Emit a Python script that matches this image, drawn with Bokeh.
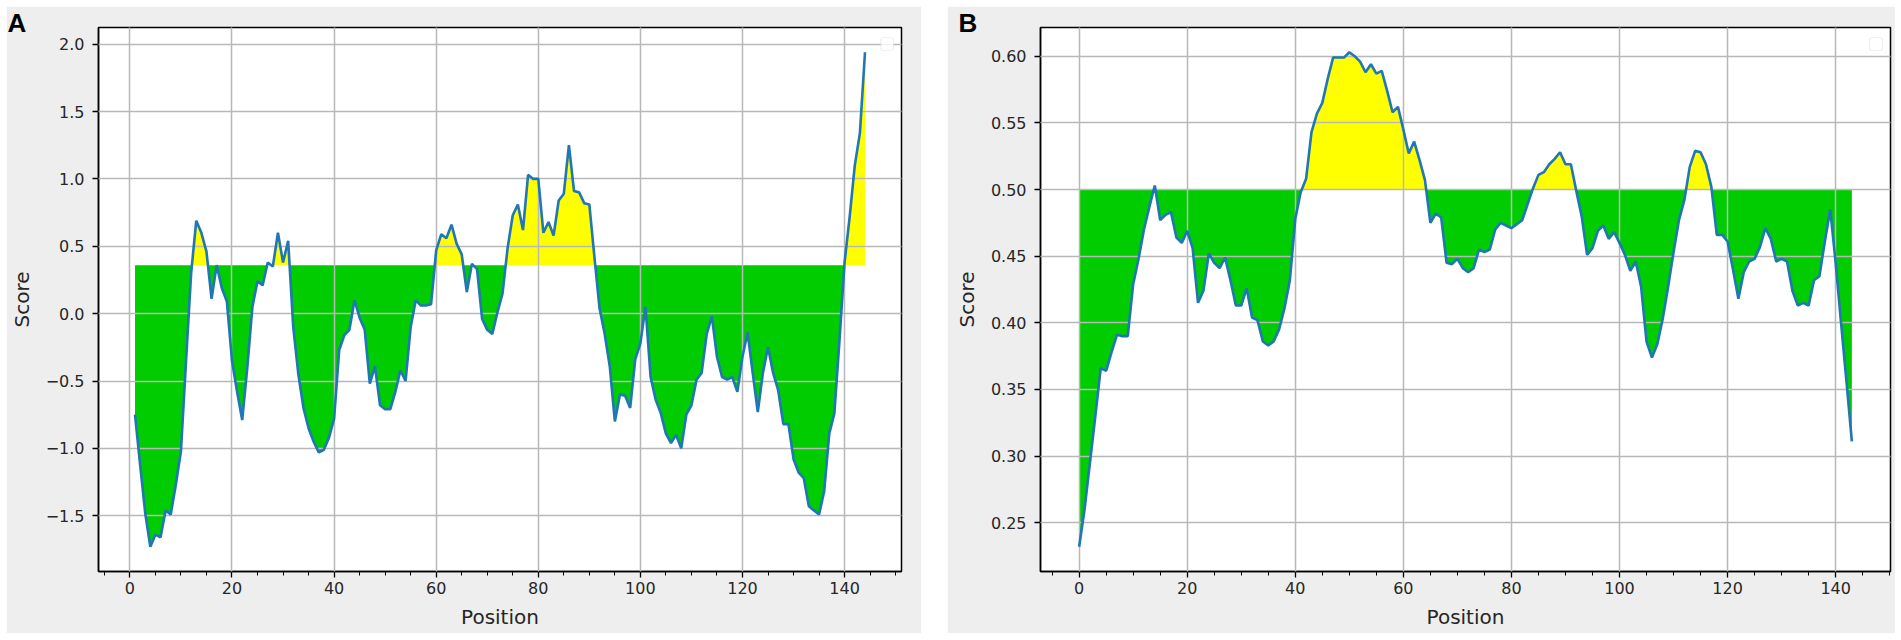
import numpy as np
from bokeh.plotting import figure
from bokeh.layouts import row
from bokeh.models import (Range1d, SingleIntervalTicker, CustomJSTickFormatter,
                          BoxAnnotation, ColumnDataSource, Title)
from bokeh.embed import file_html
from bokeh.resources import INLINE

# ---------------- data ----------------
pos_a = list(range(1, 145))
score_a = [
    -0.75, -1.12, -1.48, -1.73, -1.64, -1.66, -1.46, -1.49, -1.27, -1.02,
    -0.35, 0.30, 0.69, 0.60, 0.46, 0.11, 0.36, 0.19, 0.09, -0.35,
    -0.58, -0.79, -0.40, 0.05, 0.24, 0.21, 0.38, 0.35, 0.60, 0.38,
    0.54, -0.10, -0.45, -0.70, -0.85, -0.95, -1.03, -1.01, -0.92, -0.78,
    -0.27, -0.16, -0.12, 0.10, -0.03, -0.12, -0.52, -0.39, -0.68, -0.71,
    -0.71, -0.58, -0.42, -0.50, -0.10, 0.10, 0.06, 0.06, 0.07, 0.47,
    0.59, 0.56, 0.66, 0.52, 0.44, 0.16, 0.37, 0.33, -0.04, -0.12,
    -0.15, 0.01, 0.15, 0.49, 0.73, 0.81, 0.62, 1.03, 1.00, 1.00,
    0.60, 0.68, 0.58, 0.84, 0.89, 1.25, 0.91, 0.90, 0.82, 0.81,
    0.42, 0.04, -0.15, -0.39, -0.80, -0.60, -0.61, -0.70, -0.34, -0.22,
    0.05, -0.47, -0.64, -0.74, -0.89, -0.96, -0.90, -1.00, -0.75, -0.68,
    -0.49, -0.44, -0.15, -0.02, -0.32, -0.47, -0.49, -0.47, -0.58, -0.32,
    -0.14, -0.44, -0.73, -0.44, -0.25, -0.44, -0.57, -0.82, -0.82, -1.08,
    -1.18, -1.22, -1.43, -1.46, -1.49, -1.32, -0.89, -0.74, -0.20, 0.38,
    0.72, 1.10, 1.34, 1.94,
]
threshold_a = 0.36

pos_b = list(range(0, 144))
score_b = [
    0.232, 0.260, 0.295, 0.330, 0.366, 0.364, 0.378, 0.391, 0.390, 0.390,
    0.429, 0.448, 0.470, 0.487, 0.503, 0.477, 0.481, 0.483, 0.464, 0.460,
    0.469, 0.456, 0.415, 0.424, 0.452, 0.445, 0.441, 0.449, 0.432, 0.413,
    0.413, 0.426, 0.404, 0.402, 0.386, 0.383, 0.386, 0.395, 0.411, 0.432,
    0.478, 0.498, 0.508, 0.543, 0.557, 0.565, 0.583, 0.599, 0.599, 0.599,
    0.603, 0.600, 0.596, 0.588, 0.594, 0.587, 0.589, 0.574, 0.558, 0.562,
    0.545, 0.527, 0.536, 0.522, 0.507, 0.475, 0.482, 0.479, 0.445, 0.444,
    0.448, 0.441, 0.438, 0.441, 0.455, 0.453, 0.455, 0.470, 0.475, 0.473,
    0.471, 0.474, 0.477, 0.489, 0.501, 0.511, 0.513, 0.519, 0.523, 0.528,
    0.519, 0.519, 0.499, 0.480, 0.451, 0.456, 0.469, 0.473, 0.463, 0.468,
    0.460, 0.451, 0.439, 0.446, 0.427, 0.386, 0.374, 0.384, 0.403, 0.427,
    0.453, 0.477, 0.492, 0.517, 0.529, 0.528, 0.519, 0.502, 0.466, 0.466,
    0.461, 0.440, 0.418, 0.438, 0.446, 0.448, 0.457, 0.471, 0.463, 0.446,
    0.448, 0.446, 0.424, 0.413, 0.415, 0.413, 0.432, 0.435, 0.461, 0.485,
    0.445, 0.400, 0.356, 0.311,
]
threshold_b = 0.50

x_tick_interval = 20
y_tick_interval_a = 0.5
y_tick_interval_b = 0.05

GREEN = "#00cc00"
YELLOW = "#ffff00"
LINE = "#1f77b4"
PANEL_BG = "#eeeeee"
GRID = "#b8b8b8"
FONT = "DejaVu Sans"

FIG_H = 627
TOP_B = 21
BOT_B = 62


def with_crossings(xs, ys, thr):
    X = [xs[0]]
    Y = [ys[0]]
    for i in range(1, len(xs)):
        y0, y1 = ys[i - 1], ys[i]
        if (y0 - thr) * (y1 - thr) < 0:
            t = (thr - y0) / (y1 - y0)
            X.append(xs[i - 1] + t * (xs[i] - xs[i - 1]))
            Y.append(thr)
        X.append(xs[i])
        Y.append(ys[i])
    return np.array(X, dtype=float), np.array(Y, dtype=float)


def make_panel(letter, letter_offset, xs, ys, thr, y_int, decimals, width,
               left_border, right_border, margin):
    xs = np.array(xs, dtype=float)
    ys = np.array(ys, dtype=float)
    xpad = 0.05 * (xs.max() - xs.min())
    ypad = 0.05 * (ys.max() - ys.min())
    xr = Range1d(xs.min() - xpad, xs.max() + xpad)
    yr = Range1d(ys.min() - ypad, ys.max() + ypad)

    p = figure(width=width, height=FIG_H, x_range=xr, y_range=yr,
               output_backend="svg", toolbar_location=None,
               min_border_left=left_border, min_border_right=right_border,
               min_border_top=TOP_B, min_border_bottom=BOT_B)
    p.margin = margin
    p.border_fill_color = PANEL_BG
    p.background_fill_color = "white"
    p.outline_line_color = "black"
    p.outline_line_width = 1.5

    # panel letter as a title in the top border (reaching down beside the frame)
    p.title = Title(text=letter, align="left", vertical_align="bottom",
                    offset=letter_offset, standoff=-20,
                    text_font="Liberation Sans", text_font_style="bold",
                    text_font_size="26px", text_color="black")

    X, Y = with_crossings(xs, ys, thr)
    src = ColumnDataSource(dict(x=X, thr=np.full_like(X, thr),
                                lo=np.minimum(Y, thr), hi=np.maximum(Y, thr)))
    p.varea(x="x", y1="thr", y2="lo", source=src, fill_color=GREEN)
    p.varea(x="x", y1="thr", y2="hi", source=src, fill_color=YELLOW)
    ln = p.line(xs, ys, line_color=LINE, line_width=2.6)
    ln.level = "annotation"

    # axes
    p.xaxis.ticker = SingleIntervalTicker(interval=x_tick_interval, num_minor_ticks=4)
    p.yaxis.ticker = SingleIntervalTicker(interval=y_int, num_minor_ticks=0)
    p.xaxis.formatter = CustomJSTickFormatter(
        code="return (tick < -1e-9 ? '\u2212' : '') + Math.abs(tick).toFixed(0);")
    p.yaxis.formatter = CustomJSTickFormatter(
        code="return (tick < -1e-9 ? '\u2212' : '') + Math.abs(tick).toFixed(%d);" % decimals)
    for ax in (p.xaxis[0], p.yaxis[0]):
        ax.axis_line_color = "black"
        ax.axis_line_width = 1.5
        ax.major_tick_line_color = "black"
        ax.major_tick_line_width = 1.3
        ax.minor_tick_line_color = "black"
        ax.minor_tick_line_width = 1.0
        ax.major_tick_in = 0
        ax.major_tick_out = 6
        ax.minor_tick_in = 0
        ax.minor_tick_out = 4
        ax.major_label_text_font = FONT
        ax.major_label_text_font_size = "16px"
        ax.major_label_text_color = "#262626"
        ax.axis_label_text_font = FONT
        ax.axis_label_text_font_size = "20px"
        ax.axis_label_text_font_style = "normal"
        ax.axis_label_text_color = "#262626"
    p.yaxis.minor_tick_out = 0
    p.xaxis.axis_label = "Position"
    p.yaxis.axis_label = "Score"
    p.xaxis.major_label_standoff = 4
    p.xaxis.axis_label_standoff = 8
    p.yaxis.major_label_standoff = 8
    p.yaxis.axis_label_standoff = 9

    # grid on top of the fills
    for g in (p.xgrid[0], p.ygrid[0]):
        g.grid_line_color = GRID
        g.grid_line_width = 1.5
        g.level = "guide"
    p.xgrid.ticker = SingleIntervalTicker(interval=x_tick_interval, num_minor_ticks=0)

    # empty legend frame (top right)
    fw = width - left_border - right_border
    fh = FIG_H - TOP_B - BOT_B
    xs0, xs1 = xr.start, xr.end
    ys0, ys1 = yr.start, yr.end
    dx = (xs1 - xs0) / fw
    dy = (ys1 - ys0) / fh
    box = BoxAnnotation(left=xs1 - 21 * dx, right=xs1 - 8 * dx,
                        top=ys1 - 10 * dy, bottom=ys1 - 23 * dy,
                        fill_color="white", fill_alpha=0.8,
                        line_color="#cccccc", line_width=1.2, border_radius=3)
    p.add_layout(box)
    return p


pa = make_panel("A", -91, pos_a, score_a, threshold_a, y_tick_interval_a, 1,
                width=915, left_border=82, right_border=20, margin=(6, 0, 0, 6))
pb = make_panel("B", -82, pos_b, score_b, threshold_b, y_tick_interval_b, 2,
                width=948, left_border=93, right_border=5, margin=(6, 0, 0, 0))

layout = row(pa, pb, spacing=26)
open("out.html", "w").write(file_html(layout, INLINE))
